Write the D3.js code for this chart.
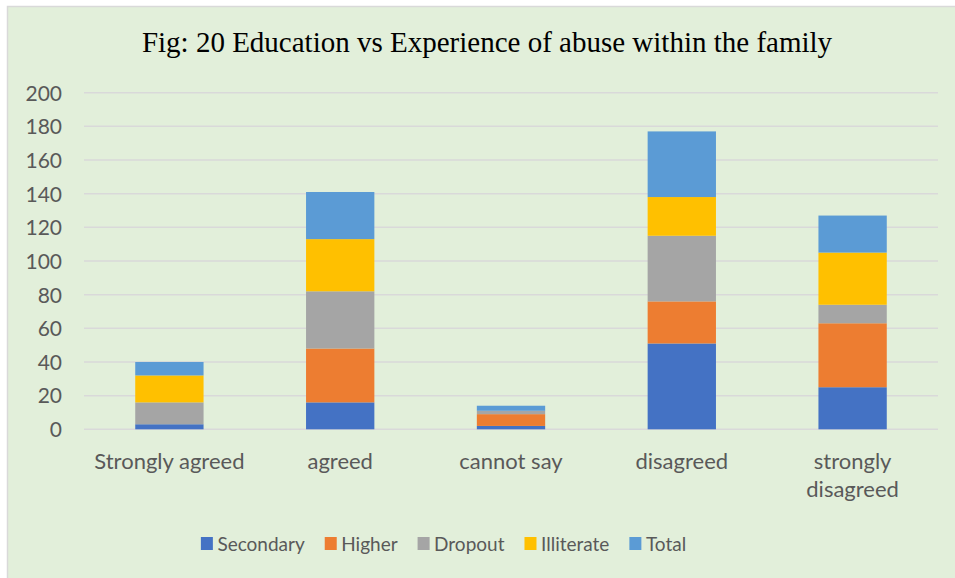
<!DOCTYPE html>
<html>
<head>
<meta charset="utf-8">
<script src="https://cdn.jsdelivr.net/npm/d3@7"></script>
<style>
  html, body { margin: 0; padding: 0; background: #ffffff; }
  svg { display: block; }
</style>
</head>
<body>
<svg id="chart" width="955" height="578"></svg>
<script>
// Response categories along the x axis
const categories = ["Strongly agreed", "agreed", "cannot say", "disagreed", "strongly disagreed"];

// Series, stacked bottom to top
const seriesNames = ["Secondary", "Higher", "Dropout", "Illiterate", "Total"];
const secondary  = [3, 16, 2, 51, 25];
const higher     = [0, 32, 7, 25, 38];
const dropout    = [13, 34, 2, 39, 11];
const illiterate = [16, 31, 0, 23, 31];
const total      = [8, 28, 3, 39, 22];

const yTicks = [0, 20, 40, 60, 80, 100, 120, 140, 160, 180, 200];
const titleText = "Fig: 20 Education vs Experience of abuse within the family";

const colors = ["#4472C4", "#ED7D31", "#A5A5A5", "#FFC000", "#5B9BD5"];

const svg = d3.select("#chart");
const W = 955, H = 578;

// Chart area background with light border
svg.append("rect")
  .attr("x", 7.5).attr("y", 6.5)
  .attr("width", W).attr("height", H)
  .attr("fill", "#E2EFDA")
  .attr("stroke", "#D9D9D9")
  .attr("stroke-width", 1.5);

// Title
svg.append("text")
  .attr("x", 487).attr("y", 52)
  .attr("text-anchor", "middle")
  .attr("font-family", "'Liberation Serif', 'DejaVu Serif', serif")
  .attr("font-size", 29)
  .attr("fill", "#000")
  .text(titleText);

const plot = { left: 84, right: 938, top: 92.7, bottom: 429.3 };

const x = d3.scaleBand()
  .domain(categories)
  .range([plot.left, plot.right])
  .paddingInner(0.6)
  .paddingOuter(0.3);

const y = d3.scaleLinear()
  .domain([0, 200])
  .range([plot.bottom, plot.top]);

// Gridlines
svg.append("g")
  .selectAll("line")
  .data(yTicks)
  .join("line")
  .attr("x1", plot.left).attr("x2", plot.right)
  .attr("y1", d => y(d)).attr("y2", d => y(d))
  .attr("stroke", "#D9D9D9")
  .attr("stroke-width", 1.5);

const labelFont = "Lato, 'Open Sans', sans-serif";

// Y axis
const yAxis = d3.axisLeft(y).tickValues(yTicks).tickSize(0).tickPadding(0);
const yg = svg.append("g")
  .attr("transform", `translate(62,0)`)
  .call(yAxis);
yg.select(".domain").remove();
yg.selectAll("text")
  .attr("font-family", labelFont)
  .attr("font-size", 21)
  .attr("fill", "#595959")
  .attr("dy", "0.35em");

// Stacked data
const rows = categories.map((c, i) => ({
  category: c,
  Secondary: secondary[i],
  Higher: higher[i],
  Dropout: dropout[i],
  Illiterate: illiterate[i],
  Total: total[i]
}));
const stacked = d3.stack().keys(seriesNames)(rows);

svg.append("g")
  .selectAll("g")
  .data(stacked)
  .join("g")
  .attr("fill", (d, i) => colors[i])
  .selectAll("rect")
  .data(d => d)
  .join("rect")
  .attr("x", d => x(d.data.category))
  .attr("width", x.bandwidth())
  .attr("y", d => y(d[1]))
  .attr("height", d => y(d[0]) - y(d[1]));

// X axis labels (wrapped onto two lines where long)
const xg = svg.append("g");
categories.forEach(c => {
  const lines = c === "strongly disagreed" ? ["strongly", "disagreed"] : [c];
  const t = xg.append("text")
    .attr("x", x(c) + x.bandwidth() / 2)
    .attr("y", 469)
    .attr("text-anchor", "middle")
    .attr("font-family", labelFont)
    .attr("font-size", 22)
    .attr("fill", "#595959");
  lines.forEach((ln, k) => {
    t.append("tspan")
      .attr("x", x(c) + x.bandwidth() / 2)
      .attr("dy", k === 0 ? 0 : 28)
      .text(ln);
  });
});

// Legend
const legend = svg.append("g");
let cursor = 0;
seriesNames.forEach((name, i) => {
  const g = legend.append("g");
  g.append("rect")
    .attr("x", 0).attr("y", -7)
    .attr("width", 12).attr("height", 13)
    .attr("fill", colors[i]);
  const txt = g.append("text")
    .attr("x", 16.5).attr("y", 0)
    .attr("dy", "0.35em")
    .attr("font-family", labelFont)
    .attr("font-size", 19)
    .attr("fill", "#595959")
    .text(name);
  const w = 16.5 + txt.node().getComputedTextLength();
  g.attr("transform", `translate(${cursor},544)`);
  cursor += w + 20;
});
const legendWidth = cursor - 20;
legend.attr("transform", `translate(${443.5 - legendWidth / 2},0)`);
</script>
</body>
</html>
